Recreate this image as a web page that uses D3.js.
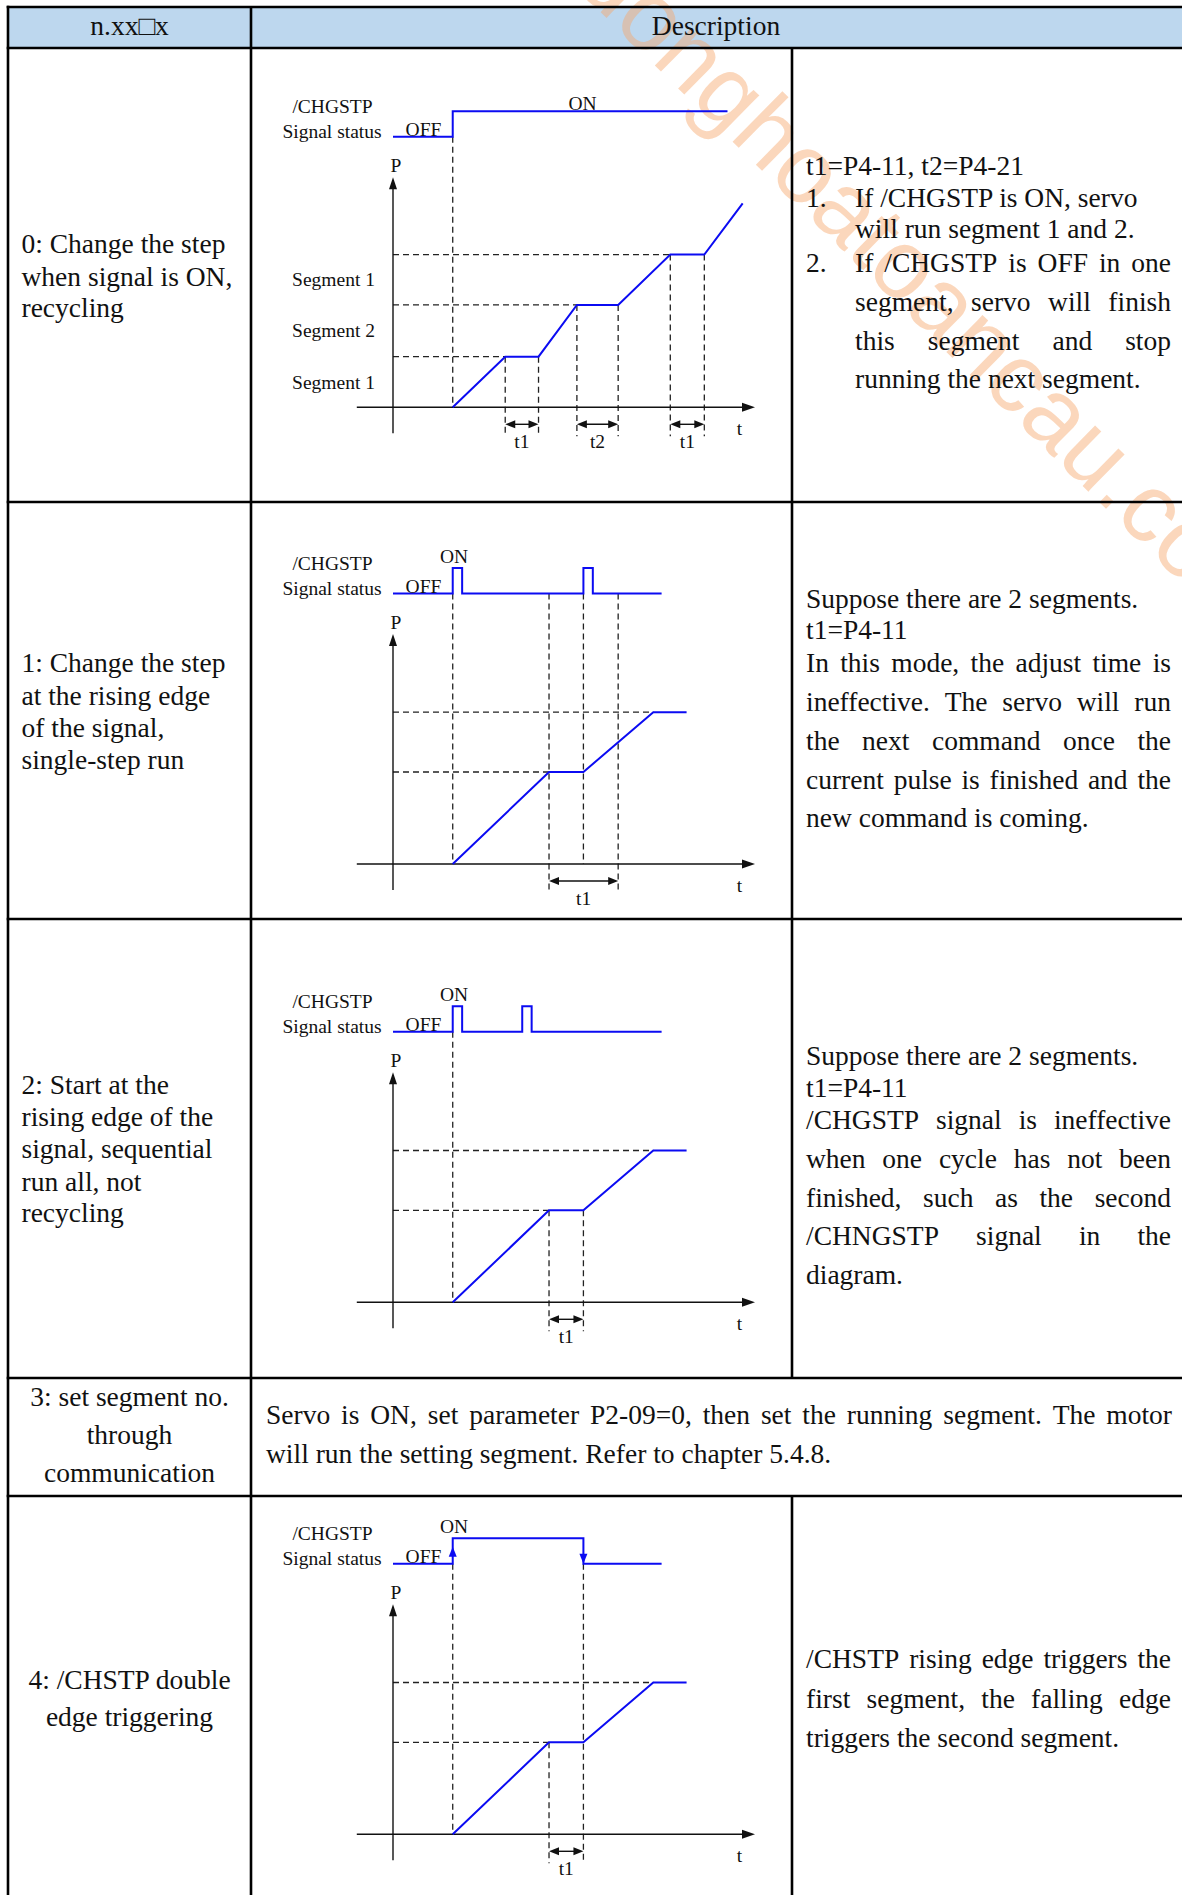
<!DOCTYPE html>
<html><head><meta charset="utf-8">
<script src="https://cdn.jsdelivr.net/npm/d3@7"></script>
<style>body{margin:0;background:#fff}svg{display:block}</style>
</head><body><svg id="c" width="1182" height="1895"></svg>
<script>
// ================= DATA =================
const headerLabels = ["n.xx\u25A1x", "Description"];
const modeLabels0 = ["0: Change the step", "when signal is ON,", "recycling"];
const modeLabels1 = ["1: Change the step", "at the rising edge", "of the signal,", "single-step run"];
const modeLabels2 = ["2: Start at the", "rising edge of the", "signal, sequential", "run all, not", "recycling"];
const modeLabels3 = ["3: set segment no.", "through", "communication"];
const modeLabels4 = ["4: /CHSTP double", "edge triggering"];

const desc0 = ["t1=P4-11, t2=P4-21", "If /CHGSTP is ON, servo", "will run segment 1 and 2.", "If /CHGSTP is OFF in one", "segment, servo will finish", "this segment and stop", "running the next segment."];
const desc0Numbers = ["", "1.", "", "2.", "", "", ""];
const desc1 = ["Suppose there are 2 segments.", "t1=P4-11", "In this mode, the adjust time is", "ineffective. The servo will run", "the next command once the", "current pulse is finished and the", "new command is coming."];
const desc2 = ["Suppose there are 2 segments.", "t1=P4-11", "/CHGSTP signal is ineffective", "when one cycle has not been", "finished, such as the second", "/CHNGSTP signal in the", "diagram."];
const desc3 = ["Servo is ON, set parameter P2-09=0, then set the running segment. The motor", "will run the setting segment. Refer to chapter 5.4.8."];
const desc4 = ["/CHSTP rising edge triggers the", "first segment, the falling edge", "triggers the second segment."];

// signal state (0 = OFF, 1 = ON) over time t (t in % of time axis)
const signal0 = [[0,0],[16.5,0],[16.5,1],[92.4,1]];
const signal1 = [[0,0],[16.5,0],[16.5,1],[19.1,1],[19.1,0],[52.6,0],[52.6,1],[55.2,1],[55.2,0],[74.2,0]];
const signal2 = [[0,0],[16.5,0],[16.5,1],[19.1,1],[19.1,0],[35.7,0],[35.7,1],[38.3,1],[38.3,0],[74.2,0]];
const signal4 = [[0,0],[16.5,0],[16.5,1],[52.6,1],[52.6,0],[74.2,0]];

// position P over time t
const pos0 = [[16.5,0],[31,22],[40.2,22],[50.8,44.5],[62.2,44.5],[76.6,66.4],[86,66.4],[96.6,88.7]];
const pos1 = [[16.5,0],[43.1,40],[52.6,40],[71.9,66],[81.1,66]];
const pos2 = [[16.5,0],[43.1,40],[52.6,40],[71.9,66],[81.1,66]];
const pos4 = [[16.5,0],[43.1,40],[52.6,40],[71.9,66],[81.1,66]];

// dwell intervals [tStart, tEnd, label]
const dwell0 = [[31,40.2,"t1"],[50.8,62.2,"t2"],[76.6,86,"t1"]];
const dwell1 = [[43.1,62.2,"t1"]];
const dwell2 = [[43.1,52.6,"t1"]];
const dwell4 = [[43.1,52.6,"t1"]];

// vertical guide lines [t, topP, extendsBelowAxis]
const sigOffP = 117.6, sigOnP = 128.7;
const guides0 = [[16.5,sigOffP,false],[31,22,true],[40.2,22,true],[50.8,44.5,true],[62.2,44.5,true],[76.6,66.4,true],[86,66.4,true]];
const guides1 = [[16.5,sigOffP,false],[43.1,sigOffP,true],[52.6,sigOffP,false],[62.2,sigOffP,true]];
const guides2 = [[16.5,sigOffP,false],[43.1,40,true],[52.6,40,true]];
const guides4 = [[16.5,sigOffP,false],[43.1,40,true],[52.6,sigOffP,true]];

const segLabels0 = ["Segment 1","Segment 2","Segment 1"];
const edgeMarks4 = [[16.5,"up"],[52.6,"down"]];

// ================= LAYOUT =================
const W = 1182, H = 1895;
const serif = "'Liberation Serif','Times New Roman',serif";
const blue = "#0b0bf2";
const svg = d3.select("#c");
const colX = [8, 251, 792, 1186];
const rowY = [7, 48, 502, 919, 1378, 1496];
const bodySize = 27.5, diagSize = 19.5;

svg.append("rect").attr("width", W).attr("height", H).attr("fill", "#fff");
svg.append("rect").attr("x", colX[0]).attr("y", rowY[0]).attr("width", W - colX[0]).attr("height", rowY[1] - rowY[0]).attr("fill", "#BDD7EE");

// watermark
svg.append("text").attr("transform", "translate(596,-40) rotate(44.5)")
  .attr("font-family", "'Liberation Sans',Arial,sans-serif").attr("font-size", 98)
  .attr("fill", "#F6A66B").attr("fill-opacity", 0.45).attr("dominant-baseline", "central")
  .text("donghoatoancau.com");

// grid
const grid = svg.append("g").attr("stroke", "#000").attr("stroke-width", 2.6).attr("fill", "none");
rowY.forEach(y => grid.append("line").attr("x1", colX[0] - 1.3).attr("x2", W + 2).attr("y1", y).attr("y2", y));
grid.append("line").attr("x1", colX[0]).attr("x2", colX[0]).attr("y1", rowY[0] - 1.3).attr("y2", H + 2);
grid.append("line").attr("x1", colX[1]).attr("x2", colX[1]).attr("y1", rowY[0]).attr("y2", H + 2);
grid.append("line").attr("x1", colX[2]).attr("x2", colX[2]).attr("y1", rowY[1]).attr("y2", rowY[4]);
grid.append("line").attr("x1", colX[2]).attr("x2", colX[2]).attr("y1", rowY[5]).attr("y2", H + 2);

function txt(g, s, x, y, size, anchor) {
  return g.append("text").attr("x", x).attr("y", y).attr("font-family", serif)
    .attr("font-size", size).attr("fill", "#111").attr("text-anchor", anchor || "start").text(s);
}
function justified(g, s, x, y, width, size) {
  const words = s.split(" ");
  const tmp = g.append("text").attr("font-family", serif).attr("font-size", size);
  const ws = words.map(w => { tmp.text(w); return tmp.node().getComputedTextLength(); });
  tmp.remove();
  const gap = (width - d3.sum(ws)) / (words.length - 1);
  let cx = x;
  words.forEach((w, i) => { txt(g, w, cx, y, size); cx += ws[i] + gap; });
}

const T = svg.append("g");
// header
txt(T, headerLabels[0], (colX[0] + colX[1]) / 2, 35, bodySize, "middle");
txt(T, headerLabels[1], 716, 35, bodySize, "middle");

// left column
const leftX = 21.5;
modeLabels0.forEach((s, i) => txt(T, s, leftX, [253, 285.5, 317][i], bodySize));
modeLabels1.forEach((s, i) => txt(T, s, leftX, [672, 705, 737, 769][i], bodySize));
modeLabels2.forEach((s, i) => txt(T, s, leftX, [1094, 1126, 1158, 1191, 1222][i], bodySize));
modeLabels3.forEach((s, i) => txt(T, s, 129.5, [1406, 1444, 1482][i], bodySize, "middle"));
modeLabels4.forEach((s, i) => txt(T, s, 129.5, [1689, 1726][i], bodySize, "middle"));

// right column
const dX = 806, dX2 = 855, dR = 1171;
const b0 = [175, 207, 238, 272, 311, 349.5, 388];
desc0.forEach((s, i) => {
  if (desc0Numbers[i]) txt(T, desc0Numbers[i], dX, b0[i], bodySize);
  const x0 = i === 0 ? dX : dX2;
  if (i >= 3 && i <= 5) justified(T, s, x0, b0[i], dR - x0, bodySize);
  else txt(T, s, x0, b0[i], bodySize);
});
const b1 = [608, 638.5, 672, 711, 750, 788.5, 827];
desc1.forEach((s, i) => { if (i >= 2 && i <= 5) justified(T, s, dX, b1[i], dR - dX, bodySize); else txt(T, s, dX, b1[i], bodySize); });
const b2 = [1065, 1097, 1129, 1168, 1207, 1245, 1284];
desc2.forEach((s, i) => { if (i >= 2 && i <= 5) justified(T, s, dX, b2[i], dR - dX, bodySize); else txt(T, s, dX, b2[i], bodySize); });
const b4 = [1668, 1708, 1747];
desc4.forEach((s, i) => { if (i <= 1) justified(T, s, dX, b4[i], dR - dX, bodySize); else txt(T, s, dX, b4[i], bodySize); });
justified(T, desc3[0], 266, 1424, 1172 - 266, bodySize);
txt(T, desc3[1], 266, 1463, bodySize);

// ================= DIAGRAMS =================
function diagram(axisY, signal, pos, guides, dwells, onLabel, segLabels, edgeMarks) {
  const x = d3.scaleLinear().domain([0, 100]).range([393, 755]);
  const y = d3.scaleLinear().domain([0, 100]).range([axisY, axisY - 230]);
  const sig = d3.scaleLinear().domain([0, 1]).range([sigOffP, sigOnP]);
  const g = svg.append("g");
  const dash = g.append("g").attr("stroke", "#222").attr("stroke-width", 1.3).attr("stroke-dasharray", "6,4").attr("fill", "none");
  // horizontal guides at each dwell level
  for (let i = 1; i < pos.length - 1; i++) {
    if (pos[i][1] === pos[i + 1][1] && pos[i][1] !== pos[i - 1][1]) {
      dash.append("line").attr("x1", x(0)).attr("x2", x(pos[i][0])).attr("y1", y(pos[i][1])).attr("y2", y(pos[i][1]));
    }
  }
  guides.forEach(d => {
    dash.append("line").attr("x1", x(d[0])).attr("x2", x(d[0])).attr("y1", y(d[1]))
      .attr("y2", d[2] ? axisY + 29 : axisY);
  });
  // axes
  const ax = g.append("g").attr("stroke", "#111").attr("stroke-width", 1.4);
  ax.append("line").attr("x1", x(-10)).attr("x2", x(100) - 8).attr("y1", axisY).attr("y2", axisY);
  ax.append("line").attr("x1", x(0)).attr("x2", x(0)).attr("y1", axisY + 26).attr("y2", y(100) + 8);
  g.append("path").attr("fill", "#111")
    .attr("d", `M${x(100)},${axisY} L${x(100) - 13},${axisY - 4.5} L${x(100) - 13},${axisY + 4.5} Z`);
  g.append("path").attr("fill", "#111")
    .attr("d", `M${x(0)},${y(100)} L${x(0) - 4},${y(100) + 12} L${x(0) + 4},${y(100) + 12} Z`);
  // dwell arrows
  dwells.forEach(d => {
    const ay = axisY + 17, x1 = x(d[0]), x2 = x(d[1]);
    ax.append("line").attr("x1", x1 + 4).attr("x2", x2 - 4).attr("y1", ay).attr("y2", ay);
    g.append("path").attr("fill", "#111").attr("d", `M${x1},${ay} L${x1 + 10},${ay - 4} L${x1 + 10},${ay + 4} Z`);
    g.append("path").attr("fill", "#111").attr("d", `M${x2},${ay} L${x2 - 10},${ay - 4} L${x2 - 10},${ay + 4} Z`);
    txt(g, d[2], (x1 + x2) / 2, axisY + 41, diagSize, "middle");
  });
  // signal
  const line = d3.line().x(d => x(d[0])).y(d => y(sig(d[1])));
  g.append("path").attr("d", line(signal)).attr("fill", "none").attr("stroke", blue).attr("stroke-width", 2);
  if (edgeMarks) edgeMarks.forEach(d => {
    const ex = x(d[0]);
    if (d[1] === "up") {
      const tip = y(sigOffP) - 17;
      g.append("path").attr("fill", blue).attr("d", `M${ex},${tip} L${ex - 4},${tip + 10} L${ex + 4},${tip + 10} Z`);
    } else {
      const tip = y(sigOffP);
      g.append("path").attr("fill", blue).attr("d", `M${ex},${tip} L${ex - 4},${tip - 10} L${ex + 4},${tip - 10} Z`);
    }
  });
  // position curve
  const pl = d3.line().x(d => x(d[0])).y(d => y(d[1]));
  g.append("path").attr("d", pl(pos)).attr("fill", "none").attr("stroke", blue).attr("stroke-width", 2);
  // labels
  txt(g, "/CHGSTP", 332.5, axisY - 294, diagSize, "middle");
  txt(g, "Signal status", 332, axisY - 269, diagSize, "middle");
  txt(g, "OFF", 423.5, axisY - 271.5, diagSize, "middle");
  txt(g, "ON", onLabel[0], axisY - onLabel[1], diagSize, "middle");
  txt(g, "P", 396, axisY - 235.5, diagSize, "middle");
  txt(g, "t", 739.5, axisY + 28, diagSize, "middle");
  if (segLabels) {
    const lv = [0].concat(pos.filter((d, i) => i > 0 && i < pos.length - 1 && d[1] === pos[i + 1][1] && d[1] !== pos[i - 1][1]).map(d => d[1]));
    segLabels.forEach((s, i) => txt(g, s, 333.5, y((lv[i] + lv[i + 1]) / 2) + 6.5, diagSize, "middle"));
  }
}
diagram(407.3, signal0, pos0, guides0, dwell0, [582.5, 297.5], segLabels0);
diagram(864, signal1, pos1, guides1, dwell1, [454, 301.5]);
diagram(1302.3, signal2, pos2, guides2, dwell2, [454, 301.5]);
diagram(1834.3, signal4, pos4, guides4, dwell4, [454, 301.5], null, edgeMarks4);
</script></body></html>
